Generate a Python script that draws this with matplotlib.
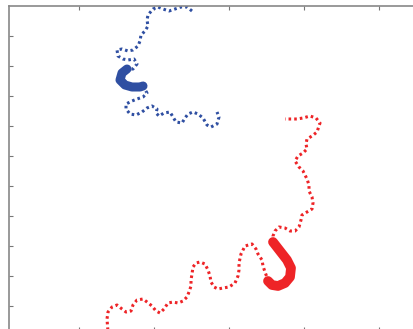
import numpy as np
import matplotlib
matplotlib.use("Agg")
import matplotlib.pyplot as plt

# track positions (x east, y down)
blue_a_x = [192, 187, 181, 175, 169, 163, 158, 153, 148, 147, 148, 145, 141, 140, 138, 133, 128, 122, 117, 118, 123, 128, 134, 137, 133, 127]
blue_a_y = [11, 7, 7, 9, 11, 9, 7, 9, 15, 20, 26, 31, 35, 41, 46, 50, 51, 49, 50, 56, 59, 60, 59, 64, 69, 69]
blue_b_x = [127, 122, 120, 125, 132, 140, 143]
blue_b_y = [69, 73, 80, 85, 87, 87, 86]
blue_c_x = [143, 147, 143, 137, 132, 126, 126, 130, 136, 142, 147, 152, 157, 156, 159, 164, 170, 173, 176, 182, 185, 188, 193, 198, 203, 207, 211, 217, 219, 217]
blue_c_y = [86, 93, 97, 99, 101, 104, 109, 114, 115, 112, 108, 106, 109, 113, 116, 113, 112, 117, 122, 123, 118, 114, 112, 114, 118, 125, 127, 124, 117, 112]

red_a_x = [108, 107, 108, 112, 117, 122, 126, 131, 133, 137, 143, 147, 152, 156, 160, 164, 168, 173, 178, 183, 187, 189, 191, 191, 192, 193, 196, 200, 205, 208, 210, 211, 214, 218, 223, 229, 235, 238, 239, 239, 241, 245, 252, 256, 258, 262, 263, 265, 268]
red_a_y = [332, 319, 312, 307, 305, 309, 312, 311, 305, 300, 299, 302, 306, 311, 313, 309, 303, 302, 303, 301, 297, 292, 286, 280, 274, 267, 263, 262, 264, 270, 276, 282, 287, 289, 288, 287, 283, 276, 270, 263, 254, 246, 244, 249, 254, 260, 266, 272, 280]
red_b_x = [268, 272, 278, 285, 290, 291, 287, 280, 273]
red_b_y = [281, 285, 286, 283, 277, 268, 260, 251, 242]
red_c_x = [273, 273, 275, 279, 285, 290, 295, 299, 301, 302, 307, 312, 313, 312, 309, 309, 307, 303, 299, 295, 298, 303, 307, 306, 307, 312, 317, 320, 316, 310, 303, 297, 292, 285]
red_c_y = [242, 236, 231, 227, 228, 231, 231, 227, 220, 215, 212, 209, 203, 197, 191, 185, 179, 171, 167, 161, 156, 153, 149, 144, 139, 136, 132, 123, 118, 116, 118, 119, 119, 119]

blue = "#2f4fa2"
red = "#ee2427"
dots = (0, (0.85, 1.0))

fig = plt.figure(figsize=(4.14, 3.29), dpi=100)
ax = fig.add_axes([9/414, 1 - 331/329, 411/414, 325/329])

ax.plot(blue_a_x, blue_a_y, color=blue, lw=2.2, ls=dots)
ax.plot(blue_c_x, blue_c_y, color=blue, lw=2.2, ls=dots)
ax.plot(blue_b_x, blue_b_y, color=blue, lw=6.5, solid_capstyle="round", solid_joinstyle="round")

ax.plot(red_a_x, red_a_y, color=red, lw=2.2, ls=dots)
ax.plot(red_c_x, red_c_y, color=red, lw=2.2, ls=dots)
ax.plot(red_b_x, red_b_y, color=red, lw=7, solid_capstyle="round", solid_joinstyle="round")

ax.set_xlim(9, 420)
ax.set_ylim(331, 6)
ax.set_xticks(np.arange(79, 420, 75))
ax.set_yticks(np.arange(36, 331, 29.95))
ax.tick_params(direction="in", length=3, width=0.8, color="#777777",
               top=True, right=True, labelleft=False, labelbottom=False)
for s in ax.spines.values():
    s.set_color("#888888")
    s.set_linewidth(1.2)

fig.savefig("out.png", dpi=100)
